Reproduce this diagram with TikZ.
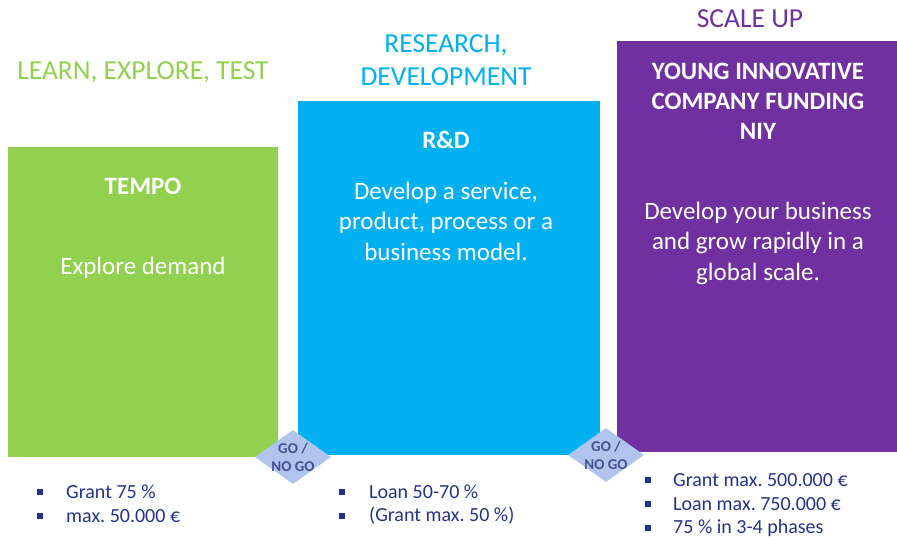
\documentclass[tikz,border=0pt]{standalone}
\usepackage{fontspec}
\setmainfont{Carlito}
\usepackage{tikz}
\usetikzlibrary{positioning}
\usetikzlibrary{shapes.geometric}
\definecolor{tempogreen}{RGB}{146,208,80}
\definecolor{rdblue}{RGB}{0,176,240}
\definecolor{niypurple}{RGB}{112,48,160}
\definecolor{gatecolor}{RGB}{176,196,238}
\definecolor{listnavy}{RGB}{36,50,140}
\definecolor{gatetext}{RGB}{70,82,145}
\frenchspacing
\tikzset{
    StageBox/.style={anchor=north west,inner sep=0pt,draw=none},
    StageHead/.style={font=\fontsize{27.5}{33}\selectfont,align=center,inner sep=0pt},
    BoxTitle/.style={font=\fontsize{25}{30}\selectfont\bfseries,text=white,align=center,inner sep=0pt},
    BoxText/.style={font=\fontsize{25}{30.5}\selectfont,text=white,align=center,inner sep=0pt},
    GateDiamond/.style={diamond,aspect=1.4,fill=gatecolor,inner sep=-6pt,minimum width=76pt,minimum height=54pt,
        font=\fontsize{15}{18}\selectfont\bfseries,text=gatetext,align=center},
    ListDot/.style={rectangle,fill=listnavy,inner sep=0pt,minimum size=5.5pt},
    ListText/.style={anchor=west,inner sep=0pt,text=listnavy,font=\fontsize{20}{24}\selectfont}
}

\begin{document}
\begin{tikzpicture}[x=1pt,y=-1pt]
    \useasboundingbox (0,0) rectangle (897,540);

    % stage headings
    \node[StageHead,text=tempogreen] (learnhead) at (143,72) {LEARN, EXPLORE, TEST};
    \node[StageHead,text=rdblue] (rdhead) at (446,60) {RESEARCH,\\DEVELOPMENT};
    \node[StageHead,text=niypurple] (scalehead) at (750,19) {SCALE UP};

    % boxes
    \node[StageBox,fill=tempogreen,minimum width=270pt,minimum height=310pt] (tempo) at (8,147) {};
    \node[StageBox,fill=rdblue,minimum width=302pt,minimum height=354pt] (rd) at (298,101) {};
    \node[StageBox,fill=niypurple,minimum width=280pt,minimum height=411pt] (niy) at (617,41) {};

    \node[BoxTitle] (tempotitle) at (143,186) {TEMPO};
    \node[BoxText] (tempotext) at (143,268) {Explore demand};

    \node[BoxTitle] (rdtitle) at (446,140) {R\&D};
    \node[BoxText] (rdtext) at (446,221) {Develop a service,\\product, process or a\\business model.};

    \node[BoxTitle] (niytitle) at (758,101) {YOUNG INNOVATIVE\\COMPANY FUNDING\\NIY};
    \node[BoxText] (niytext) at (758,243) {Develop your business\\and grow rapidly in a\\global scale.};

    % go / no go gates
    \node[GateDiamond] (gateone) at (293,457) {GO /\\NO GO};
    \node[GateDiamond] (gatetwo) at (606,455) {GO /\\NO GO};

    % funding lists
    \foreach \txt [count=\i] in {Grant 75 \%, max. 50.000 €}{
        \node[ListDot] (tempodot\i) at (40,{468+24*\i}) {};
        \node[ListText] (tempoitem\i) at (66,{468+24*\i}) {\txt};
    }
    \foreach \txt [count=\i] in {Loan 50-70 \%, (Grant max. 50 \%)}{
        \node[ListDot] (rddot\i) at (342,{468+24*\i}) {};
        \node[ListText] (rditem\i) at (369,{468+24*\i}) {\txt};
    }
    \foreach \txt [count=\i] in {Grant max. 500.000 €, Loan max. 750.000 €, 75 \% in 3-4 phases}{
        \node[ListDot] (niydot\i) at (648,{456+24*\i}) {};
        \node[ListText] (niyitem\i) at (673,{456+24*\i}) {\txt};
    }
\end{tikzpicture}
\end{document}
